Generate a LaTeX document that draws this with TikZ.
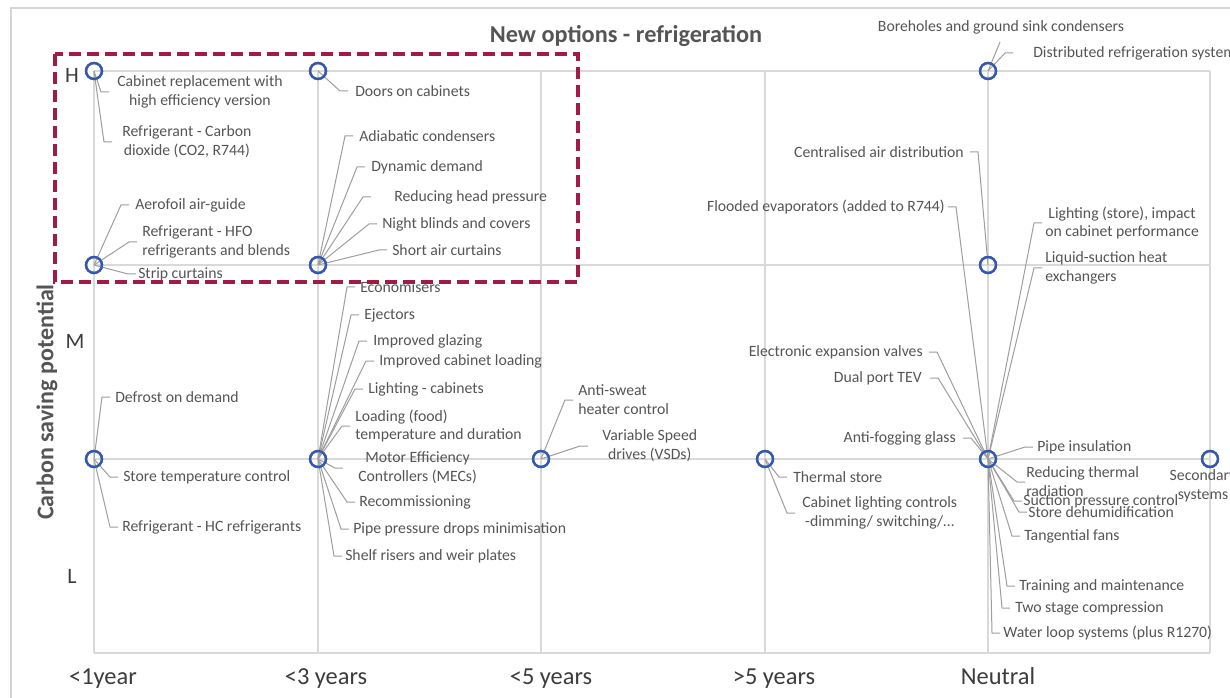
\documentclass[tikz,border=0pt]{standalone}
\usepackage{fontspec}
\setmainfont{Carlito}
\usetikzlibrary{calc}

\definecolor{gridc}{RGB}{217,217,217}
\definecolor{framec}{RGB}{214,214,214}
\definecolor{dotc}{RGB}{52,88,178}
\definecolor{leadc}{RGB}{158,158,158}
\definecolor{labc}{RGB}{85,85,85}
\definecolor{boxc}{RGB}{163,26,68}
\definecolor{axisc}{RGB}{60,60,60}

\tikzset{
  gridline/.style={draw=gridc, line width=1.1pt},
  dot/.style={circle, draw=dotc, line width=1.7pt, minimum size=12pt, inner sep=0pt},
  leader/.style={draw=leadc, line width=0.75pt},
  lab/.style={inner sep=0pt, text=labc, font=\fontsize{11.8}{14.2}\selectfont},
  tick/.style={inner sep=0pt, anchor=base, text=axisc, font=\fontsize{18.3}{21}\selectfont},
  level/.style={inner sep=0pt, text=axisc, font=\fontsize{16.5}{19}\selectfont},
  focus/.style={draw=boxc, line width=2.3pt, dash pattern=on 9pt off 4.5pt},
}

% leader to a label on the right: point -> bend -> short horizontal tick
\newcommand\ldrR[3][5]{\draw[leader] (#2.center) -- ($(#3.west)+(-#1-8,0)$) -- ($(#3.west)+(-#1,0)$);}
% leader to a label on the left
\newcommand\ldrL[3][5]{\draw[leader] (#2.center) -- ($(#3.east)+(#1+8,0)$) -- ($(#3.east)+(#1,0)$);}

\begin{document}
\begin{tikzpicture}[x=0.75pt,y=-0.75pt]
\useasboundingbox (0,0) rectangle (1230,698);
\clip (0,0) rectangle (1230,698);
\fill[white] (0,0) rectangle (1230,698);

% chart frame
\draw[draw=framec, line width=1pt] (11,698) -- (11,8) -- (1232,8);

% grid
\foreach \gx in {94,318,541,765,988,1210}
  \draw[gridline] (\gx,71) -- (\gx,653);
\foreach \gy in {71,265,459,653}
  \draw[gridline] (94,\gy) -- (1210,\gy);

% titles and axes
\node[inner sep=0pt, text=labc, font=\bfseries\fontsize{18.2}{21}\selectfont] (title) at (626,36) {New options - refrigeration};
\node[inner sep=0pt, text=labc, rotate=90, font=\bfseries\fontsize{18}{21}\selectfont] (ylab) at (47,402) {Carbon saving potential};
\node[level] (lvH) at (72,75) {H};
\node[level] (lvM) at (75,341) {M};
\node[level] (lvL) at (72,576) {L};
\node[tick] (t1) at (103,684) {<1year};
\node[tick] (t3) at (326,684) {<3 years};
\node[tick] (t5) at (551,684) {<5 years};
\node[tick] (t7) at (774,684) {>5 years};
\node[tick] (tn) at (998,684) {Neutral};

% data points
\node[dot] (c1a) at (94,71) {};
\node[dot] (c1b) at (94,265) {};
\node[dot] (c1c) at (94,459) {};
\node[dot] (c3a) at (318,71) {};
\node[dot] (c3b) at (318,265) {};
\node[dot] (c3c) at (318,459) {};
\node[dot] (c5)  at (541,459) {};
\node[dot] (c7)  at (765,459) {};
\node[dot] (cna) at (988,71) {};
\node[dot] (cnb) at (988,265) {};
\node[dot] (cnc) at (988,459) {};
\node[dot] (cs)  at (1210,459) {};

% labels: <1 year
\node[lab, anchor=west, align=center] (cab) at (117,92) {Cabinet replacement with\\high efficiency version};
\node[lab, anchor=west, align=center] (co2) at (122,142) {Refrigerant - Carbon\\dioxide (CO2, R744)};
\node[lab, anchor=west] (aero) at (135,205) {Aerofoil air-guide};
\node[lab, anchor=west, align=left] (hfo) at (142,242) {Refrigerant - HFO\\refrigerants and blends};
\node[lab, anchor=west] (strip) at (138,274) {Strip curtains};
\node[lab, anchor=west] (defr) at (115,397) {Defrost on demand};
\node[lab, anchor=west] (stt) at (123,477) {Store temperature control};
\node[lab, anchor=west] (hc) at (122,527) {Refrigerant - HC refrigerants};

% labels: <3 years
\node[lab, anchor=west] (door) at (355,91) {Doors on cabinets};
\node[lab, anchor=west] (adia) at (359,136) {Adiabatic condensers};
\node[lab, anchor=west] (dyn) at (371,167) {Dynamic demand};
\node[lab, anchor=west] (rhp) at (394,197) {Reducing head pressure};
\node[lab, anchor=west] (night) at (382,224) {Night blinds and covers};
\node[lab, anchor=west] (short) at (392,250) {Short air curtains};
\node[lab, anchor=west] (econ) at (360,287) {Economisers};
\node[lab, anchor=west] (eject) at (364,315) {Ejectors};
\node[lab, anchor=west] (glaz) at (373,341) {Improved glazing};
\node[lab, anchor=west] (cload) at (379,361) {Improved cabinet loading};
\node[lab, anchor=west] (lcab) at (368,389) {Lighting - cabinets};
\node[lab, anchor=west, align=left] (food) at (355,426) {Loading (food)\\temperature and duration};
\node[lab, anchor=west, align=center] (mec) at (358,468) {Motor Efficiency\\Controllers (MECs)};
\node[lab, anchor=west] (recom) at (359,502) {Recommissioning};
\node[lab, anchor=west] (pipep) at (353,529) {Pipe pressure drops minimisation};
\node[lab, anchor=west] (shelf) at (345,556) {Shelf risers and weir plates};

% labels: <5 years and >5 years
\node[lab, anchor=west, align=left] (sweat) at (578,400) {Anti-sweat\\heater control};
\node[lab, anchor=west, align=center] (vsd) at (602,446) {Variable Speed\\drives (VSDs)};
\node[lab, anchor=west] (therm) at (793,477) {Thermal store};
\node[lab, anchor=west, align=center] (clc) at (802,513) {Cabinet lighting controls\\-dimming/ switching/…};

% labels: neutral
\node[lab] (bore) at (1001,27) {Boreholes and ground sink condensers};
\node[lab, anchor=west] (distr) at (1033,53) {Distributed refrigeration systems};
\node[lab, anchor=east] (cair) at (964,152) {Centralised air distribution};
\node[lab, anchor=east] (flood) at (945,207) {Flooded evaporators (added to R744)};
\node[lab, anchor=west, align=center] (lstore) at (1045,223) {Lighting (store), impact\\on cabinet performance};
\node[lab, anchor=west, align=left] (lsuct) at (1045,268) {Liquid-suction heat\\exchangers};
\node[lab, anchor=east] (eev) at (923,352) {Electronic expansion valves};
\node[lab, anchor=east] (tev) at (922,378) {Dual port TEV};
\node[lab, anchor=east] (fog) at (956,438) {Anti-fogging glass};
\node[lab, anchor=west] (pins) at (1037,447) {Pipe insulation};
\node[lab, anchor=west, align=left] (rtr) at (1026,482) {Reducing thermal\\radiation};
\node[lab, anchor=west] (spc) at (1023,501) {Suction pressure control};
\node[lab, anchor=west] (dehum) at (1028,512) {Store dehumidification};
\node[lab, anchor=west] (tfan) at (1024,536) {Tangential fans};
\node[lab, anchor=west] (train) at (1019,586) {Training and maintenance};
\node[lab, anchor=west] (twost) at (1015,608) {Two stage compression};
\node[lab, anchor=west] (wloop) at (1003,633) {Water loop systems (plus R1270)};
\node[lab, align=center] (sec) at (1203,486) {Secondary\\systems};

% leader lines
\ldrR[8]{c1a}{cab}
\ldrR[10]{c1a}{co2}
\ldrR[6]{c1b}{aero}
\ldrR[5]{c1b}{hfo}
\ldrR[2]{c1b}{strip}
\ldrR[5]{c1c}{defr}
\ldrR[5]{c1c}{stt}
\ldrR[4]{c1c}{hc}
\ldrR[7]{c3a}{door}
\ldrR[6]{c3b}{adia}
\ldrR[6]{c3b}{dyn}
\ldrR[23]{c3b}{rhp}
\ldrR[5]{c3b}{night}
\ldrR[5]{c3b}{short}
\ldrR[5]{c3c}{econ}
\ldrR[5]{c3c}{eject}
\ldrR[6]{c3c}{glaz}
\ldrR[5]{c3c}{cload}
\ldrR[5]{c3c}{lcab}
\ldrR[5]{c3c}{food}
\ldrR[15]{c3c}{mec}
\ldrR[4]{c3c}{recom}
\ldrR[4]{c3c}{pipep}
\ldrR[3]{c3c}{shelf}
\ldrR[5]{c5}{sweat}
\ldrR[14]{c5}{vsd}
\ldrR[6]{c7}{therm}
\ldrR[7]{c7}{clc}
\draw[leader] (cna.center) -- ($(bore.south)+(-1,8)$);
\ldrR[20]{cna}{distr}
\ldrL[6]{cnb}{cair}
\ldrL[3]{cnc}{flood}
\ldrR[3]{cnc}{lstore}
\ldrR[3]{cnc}{lsuct}
\ldrL[6]{cnc}{eev}
\ldrL[8]{cnc}{tev}
\ldrL[7]{cnc}{fog}
\ldrR[4]{cnc}{pins}
\ldrR[1]{cnc}{rtr}
\ldrR[1]{cnc}{spc}
\ldrR[1]{cnc}{dehum}
\ldrR[4]{cnc}{tfan}
\ldrR[4]{cnc}{train}
\ldrR[5]{cnc}{twost}
\ldrR[3]{cnc}{wloop}

% redraw the points above their leaders
\foreach \p in {c1a,c1b,c1c,c3a,c3b,c3c,c5,c7,cna,cnb,cnc,cs}
  \draw[draw=dotc, line width=1.7pt] (\p.center) circle[radius=6pt];

% highlighted group of quick high-saving options
\draw[focus] (55,54) rectangle (578,282);
\end{tikzpicture}
\end{document}
